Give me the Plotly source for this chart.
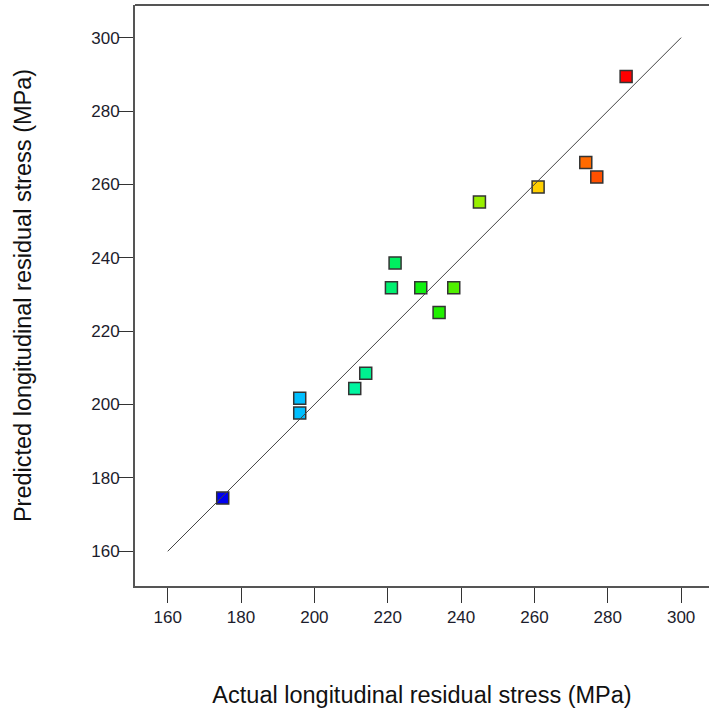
import plotly.graph_objects as go

actual = [175, 196, 196, 211, 214, 221, 222, 229, 234, 238, 245, 261, 274, 277, 285]
predicted = [174.5, 197.7, 201.7, 204.4, 208.5, 231.8, 238.6, 231.8, 225.1, 231.8, 255.2, 259.3, 266.0, 262.0, 289.4]
colors = ["#0000f0", "#00bfff", "#00bfff", "#00f5a0", "#00f090", "#00f070", "#00f060",
          "#10f010", "#20f000", "#50f000", "#98f000", "#ffd000", "#ff6a00", "#ff5000", "#ff0000"]
line_x = [160, 300]
line_y = [160, 300]
tick_vals = [160, 180, 200, 220, 240, 260, 280, 300]

fig = go.Figure()
fig.add_trace(go.Scatter(
    x=actual, y=predicted, mode="markers",
    marker=dict(symbol="square", size=12, color=colors, line=dict(color="#333333", width=1.5)),
    showlegend=False, hoverinfo="x+y"))
fig.add_trace(go.Scatter(
    x=line_x, y=line_y, mode="lines",
    line=dict(color="#444444", width=1), showlegend=False, hoverinfo="skip"))

axis_common = dict(
    showgrid=False, zeroline=False, showline=True, linecolor="#555555", linewidth=2,
    ticks="outside", ticklen=15, tickwidth=1.2, tickcolor="#333333",
    tickvals=tick_vals, tickfont=dict(family="Liberation Sans, Arial", size=17, color="#1c1c2c"),
)
fig.update_layout(
    width=709, height=717,
    margin=dict(l=135, r=0, t=5, b=131),
    plot_bgcolor="white", paper_bgcolor="white",
    xaxis=dict(range=[151.08, 307.6], mirror=False, **axis_common,
               title=dict(text="Actual longitudinal residual stress (MPa)",
                          font=dict(family="Liberation Sans, Arial", size=23.5, color="#111111"),
                          standoff=60)),
    yaxis=dict(range=[150.54, 308.9], ticklabelstandoff=-5, **axis_common,
               title=dict(text="Predicted longitudinal residual stress (MPa)",
                          font=dict(family="Liberation Sans, Arial", size=23.5, color="#111111"),
                          standoff=53)),
    shapes=[dict(type="line", xref="paper", yref="paper", x0=0, x1=1, y0=1, y1=1,
                 line=dict(color="#555555", width=2))],
)
fig.write_html("out.html")
